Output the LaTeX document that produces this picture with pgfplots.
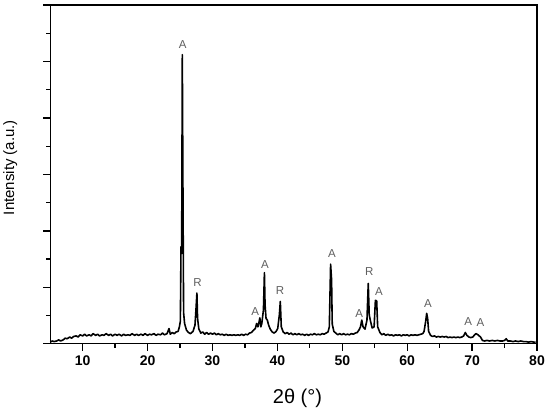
\documentclass[border=0pt]{standalone}
\usepackage{fontspec}
\setmainfont{Liberation Sans}
\usepackage{pgfplots}
\pgfplotsset{compat=1.18}
\definecolor{lblgray}{RGB}{95,95,95}
\begin{document}
\begin{tikzpicture}
\begin{axis}[
    scale only axis,
    width=487pt, height=339pt,
    xmin=5, xmax=80,
    ymin=0, ymax=6,
    xtick={10,20,...,80},
    minor x tick num=1,
    ytick={0,1,...,6},
    minor y tick num=1,
    yticklabels={},
    tick align=outside,
    tick pos=left,
    major tick length=7pt,
    minor tick length=4pt,
    axis line style={line width=1.3pt},
    every tick/.style={black, line width=1.3pt},
    /pgf/number format/assume math mode=true,
    xticklabel style={font=\fontsize{14}{15}\selectfont\bfseries, yshift=-1pt},
    xlabel={2θ (°)},
    xlabel style={font=\fontsize{20}{22}\selectfont, at={(axis description cs:0.508,-0.160)}, anchor=center},
    ylabel={Intensity (a.u.)},
    ylabel style={font=\fontsize{15}{17}\selectfont, at={(axis description cs:-0.082,0.52)}, anchor=center},
    clip=false
]
    \addplot[line width=1.6pt, black, line join=round] coordinates {
        (5.0,0.03) (5.3,0.05) (5.6,0.04) (6.0,0.05) (6.3,0.07) (6.6,0.05)
        (7.0,0.07) (7.3,0.10) (7.6,0.09) (8.0,0.12) (8.3,0.10) (8.6,0.13)
        (9.0,0.14) (9.3,0.12) (9.6,0.16) (10.0,0.14) (10.3,0.17) (10.6,0.14)
        (11.0,0.16) (11.3,0.14) (11.6,0.18) (12.0,0.15) (12.3,0.17) (12.6,0.14)
        (13.0,0.16) (13.3,0.15) (13.6,0.18) (14.0,0.15) (14.3,0.17) (14.6,0.14)
        (15.0,0.17) (15.3,0.15) (15.6,0.17) (16.0,0.14) (16.3,0.17) (16.6,0.15)
        (17.0,0.16) (17.3,0.15) (17.6,0.18) (18.0,0.15) (18.3,0.17) (18.6,0.15)
        (19.0,0.17) (19.3,0.15) (19.6,0.18) (20.0,0.15) (20.3,0.17) (20.6,0.16)
        (21.0,0.18) (21.3,0.15) (21.6,0.17) (22.0,0.16) (22.3,0.19) (22.6,0.16)
        (23.0,0.18) (23.3,0.27) (23.5,0.17) (23.8,0.20) (24.1,0.18) (24.4,0.21)
        (24.7,0.22) (24.9,0.30) (25.05,0.40) (25.15,1.72) (25.25,1.60)
        (25.35,5.12) (25.45,2.73) (25.55,0.55) (25.7,0.36) (26.0,0.24) (26.3,0.20)
        (26.6,0.18) (27.0,0.22) (27.3,0.33) (27.45,0.60) (27.6,0.90) (27.7,0.45)
        (27.9,0.26) (28.2,0.19) (28.5,0.21) (28.8,0.17) (29.1,0.20) (29.4,0.17)
        (29.7,0.19) (30.0,0.17) (30.3,0.19) (30.6,0.16) (30.9,0.18) (31.2,0.16)
        (31.5,0.17) (31.8,0.15) (32.1,0.17) (32.4,0.15) (32.7,0.16) (33.0,0.15)
        (33.3,0.16) (33.6,0.15) (33.9,0.16) (34.2,0.15) (34.5,0.17) (34.8,0.15)
        (35.1,0.17) (35.4,0.16) (35.7,0.19) (36.0,0.20) (36.3,0.24) (36.6,0.27)
        (36.8,0.36) (37.0,0.30) (37.2,0.40) (37.3,0.46) (37.45,0.30) (37.6,0.36)
        (37.85,0.60) (38.0,1.26) (38.1,0.69) (38.25,0.45) (38.45,0.42) (38.65,0.33)
        (38.9,0.26) (39.2,0.21) (39.5,0.19) (39.8,0.22) (40.05,0.27) (40.3,0.51)
        (40.45,0.75) (40.6,0.30) (40.9,0.21) (41.2,0.18) (41.5,0.20) (41.8,0.17)
        (42.1,0.19) (42.4,0.16) (42.7,0.18) (43.0,0.16) (43.3,0.18) (43.6,0.16)
        (43.9,0.17) (44.2,0.15) (44.5,0.17) (44.8,0.15) (45.1,0.17) (45.4,0.16)
        (45.7,0.18) (46.0,0.16) (46.3,0.17) (46.6,0.16) (46.9,0.18) (47.2,0.17)
        (47.5,0.19) (47.8,0.21) (48.0,0.30) (48.2,1.41) (48.35,1.13) (48.45,0.35)
        (48.7,0.22) (49.0,0.19) (49.3,0.16) (49.6,0.18) (49.9,0.16) (50.2,0.18)
        (50.5,0.16) (50.8,0.17) (51.1,0.16) (51.4,0.18) (51.7,0.17) (52.0,0.19)
        (52.3,0.20) (52.6,0.25) (52.8,0.30) (53.0,0.42) (53.2,0.30) (53.5,0.26)
        (53.8,0.42) (54.0,1.07) (54.15,0.51) (54.35,0.40) (54.6,0.28) (54.9,0.30)
        (55.1,0.77) (55.3,0.76) (55.45,0.30) (55.8,0.20) (56.1,0.16) (56.4,0.18)
        (56.7,0.15) (57.0,0.17) (57.3,0.15) (57.6,0.16) (57.9,0.14) (58.2,0.16)
        (58.5,0.15) (58.8,0.16) (59.1,0.14) (59.4,0.16) (59.7,0.15) (60.0,0.16)
        (60.3,0.14) (60.6,0.16) (60.9,0.15) (61.2,0.16) (61.5,0.15) (61.8,0.16)
        (62.1,0.17) (62.4,0.18) (62.6,0.22) (62.85,0.40) (63.0,0.54) (63.15,0.45)
        (63.3,0.22) (63.6,0.15) (63.9,0.13) (64.2,0.14) (64.5,0.12) (64.8,0.13)
        (65.1,0.12) (65.4,0.13) (65.7,0.12) (66.0,0.13) (66.3,0.11) (66.6,0.12)
        (66.9,0.11) (67.2,0.12) (67.5,0.11) (67.8,0.12) (68.1,0.11) (68.4,0.12)
        (68.7,0.14) (68.95,0.20) (69.2,0.15) (69.5,0.12) (69.8,0.11) (70.1,0.12)
        (70.4,0.16) (70.6,0.18) (70.9,0.16) (71.3,0.12) (71.6,0.06) (71.9,0.05)
        (72.3,0.06) (72.7,0.05) (73.1,0.06) (73.5,0.05) (73.9,0.06) (74.3,0.05)
        (74.7,0.05) (75.0,0.06) (75.25,0.09) (75.5,0.05) (75.9,0.05) (76.3,0.04)
        (76.7,0.05) (77.1,0.04) (77.5,0.05) (77.9,0.04) (78.3,0.04) (78.7,0.03)
        (79.1,0.04) (79.5,0.03) (79.8,0.03)
    };

    \begin{scope}[every node/.style={font=\fontsize{11.5}{12}\selectfont, text=lblgray}]
        \node at (axis cs:25.40,5.30) {A};
        \node at (axis cs:27.70,1.08) {R};
        \node at (axis cs:36.60,0.57) {A};
        \node at (axis cs:38.10,1.41) {A};
        \node at (axis cs:40.40,0.94) {R};
        \node at (axis cs:48.40,1.60) {A};
        \node at (axis cs:52.60,0.53) {A};
        \node at (axis cs:54.15,1.28) {R};
        \node at (axis cs:55.65,0.93) {A};
        \node at (axis cs:63.20,0.72) {A};
        \node at (axis cs:69.40,0.39) {A};
        \node at (axis cs:71.30,0.37) {A};
    \end{scope}

    \path (rel axis cs:-0.1027,-0.1917) rectangle (rel axis cs:1.0267,1.0147);
\end{axis}
\end{tikzpicture}
\end{document}
